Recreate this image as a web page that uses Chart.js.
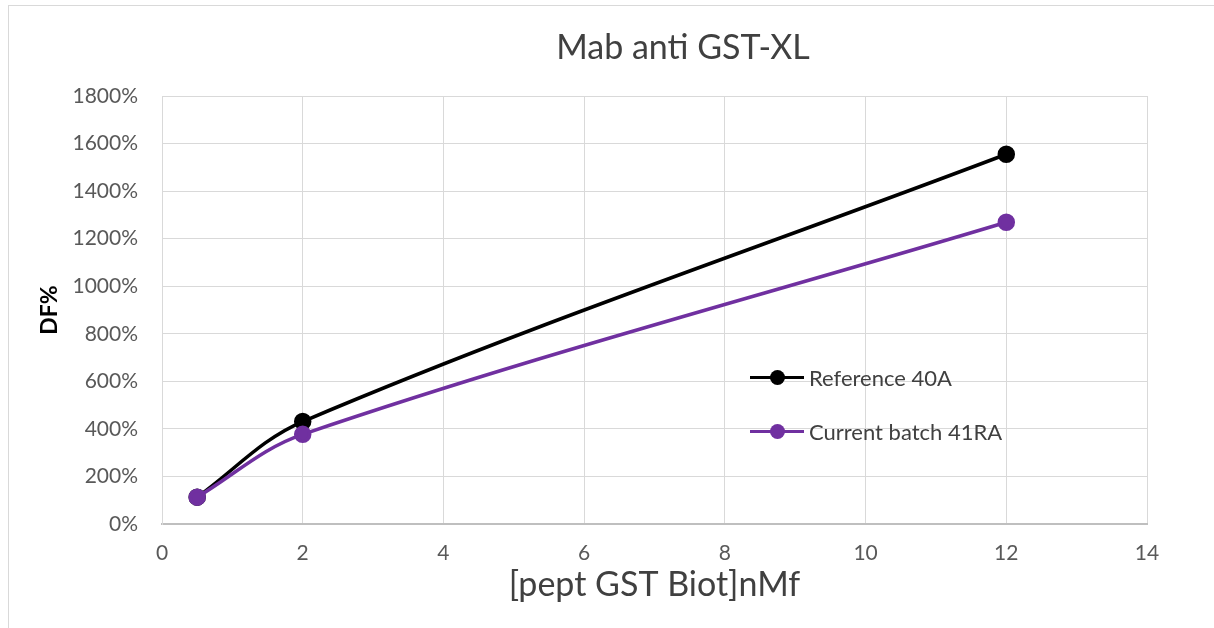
<!DOCTYPE html>
<html>
<head>
<meta charset="utf-8">
<script src="https://cdn.jsdelivr.net/npm/chart.js@4"></script>
<style>
  html, body { margin: 0; padding: 0; background: #fff; overflow: hidden; }
  #wrap { position: relative; width: 1214px; height: 628px; overflow: hidden; }
  #frame { position: absolute; left: 8px; top: 5px; width: 1230px; height: 660px; border: 1px solid #d9d9d9; }
  #legend { position: absolute; left: 750px; top: 363px; font-family: Lato, "Open Sans", sans-serif; font-size: 22px; color: #404040; }
  .item { position: relative; height: 54px; padding-left: 59px; line-height: 30px; white-space: nowrap; }
  .item .ln { position: absolute; left: 0; top: 13px; width: 54px; height: 3px; }
  .item .dot { position: absolute; left: 20px; top: 7px; width: 15px; height: 15px; border-radius: 50%; }
</style>
</head>
<body>
<div id="wrap">
  <canvas id="chart" width="1214" height="628"></canvas>
  <div id="frame"></div>
  <div id="legend"></div>
</div>
<script>
// Mab anti GST-XL — DF% vs concentration

const concentrations = [0.5, 2, 12];          // nMf
const reference40A   = [113, 431, 1555];      // DF %
const batch41RA      = [113, 377, 1269];      // DF %
const seriesNames    = ['Reference 40A', 'Current batch 41RA'];
const seriesColors   = ['#000000', '#7030A0'];
const xTicks = [0, 2, 4, 6, 8, 10, 12, 14];
const yTicks = [0, 200, 400, 600, 800, 1000, 1200, 1400, 1600, 1800];
const chartTitle = 'Mab anti GST-XL';

const font = 'Lato, "Open Sans", sans-serif';
const toPts = vals => concentrations.map((c, i) => ({ x: c, y: vals[i] }));

// legend sits inside the plot like the spreadsheet one
const legendEl = document.getElementById('legend');
seriesNames.forEach((name, i) => {
  const d = document.createElement('div');
  d.className = 'item';
  d.innerHTML = `<span class="ln" style="background:${seriesColors[i]}"></span>` +
                `<span class="dot" style="background:${seriesColors[i]}"></span>${name}`;
  legendEl.appendChild(d);
});

// title is offset to the right of the plot centre in the original, so draw it by hand
const titlePlugin = {
  id: 'offsetTitle',
  afterDraw(chart) {
    const c = chart.ctx;
    c.save();
    c.font = `34px ${font}`;
    c.fillStyle = '#404040';
    c.textAlign = 'center';
    c.textBaseline = 'middle';
    c.fillText(chartTitle, 683, 48);
    c.restore();
  }
};

const ctx = document.getElementById('chart');
new Chart(ctx, {
  type: 'line',
  data: {
    datasets: [reference40A, batch41RA].map((vals, i) => ({
      label: seriesNames[i],
      data: toPts(vals),
      borderColor: seriesColors[i],
      backgroundColor: seriesColors[i],
      borderWidth: 3.5,
      pointRadius: 7,
      pointHoverRadius: 7,
      tension: 0.35,
      order: 1 - i,   // purple drawn over black
      fill: false
    }))
  },
  plugins: [titlePlugin],
  options: {
    responsive: false,
    animation: false,
    layout: { padding: { left: 36, right: 67, top: 96, bottom: 23 } },
    plugins: {
      legend: { display: false },
      tooltip: { enabled: false },
      title: { display: false }
    },
    scales: {
      x: {
        type: 'linear', min: 0, max: 14,
        afterBuildTicks: s => { s.ticks = xTicks.map(v => ({ value: v })); },
        afterFit: s => { s.height = 81; },
        grid: { color: '#d9d9d9', lineWidth: 1, drawTicks: false },
        border: { color: '#bfbfbf', width: 2 },
        ticks: { color: '#595959', font: { family: font, size: 21 }, padding: 17 },
        title: { display: true, text: '[pept GST Biot]nMf', color: '#404040',
                 font: { family: font, size: 34 }, padding: { top: 0, bottom: 0 } }
      },
      y: {
        min: 0, max: 1800,
        afterBuildTicks: s => { s.ticks = yTicks.map(v => ({ value: v })); },
        afterFit: s => { s.width = 126; },
        grid: { color: '#d9d9d9', lineWidth: 1, drawTicks: false },
        border: { color: '#d9d9d9', width: 1 },
        ticks: { color: '#595959', font: { family: font, size: 21 }, padding: 24,
                 callback: v => v + '%' },
        title: { display: true, text: 'DF%', color: '#000000',
                 font: { family: font, size: 23, weight: 'bold' }, padding: { top: 0, bottom: 0 } }
      }
    }
  }
});
</script>
</body>
</html>
